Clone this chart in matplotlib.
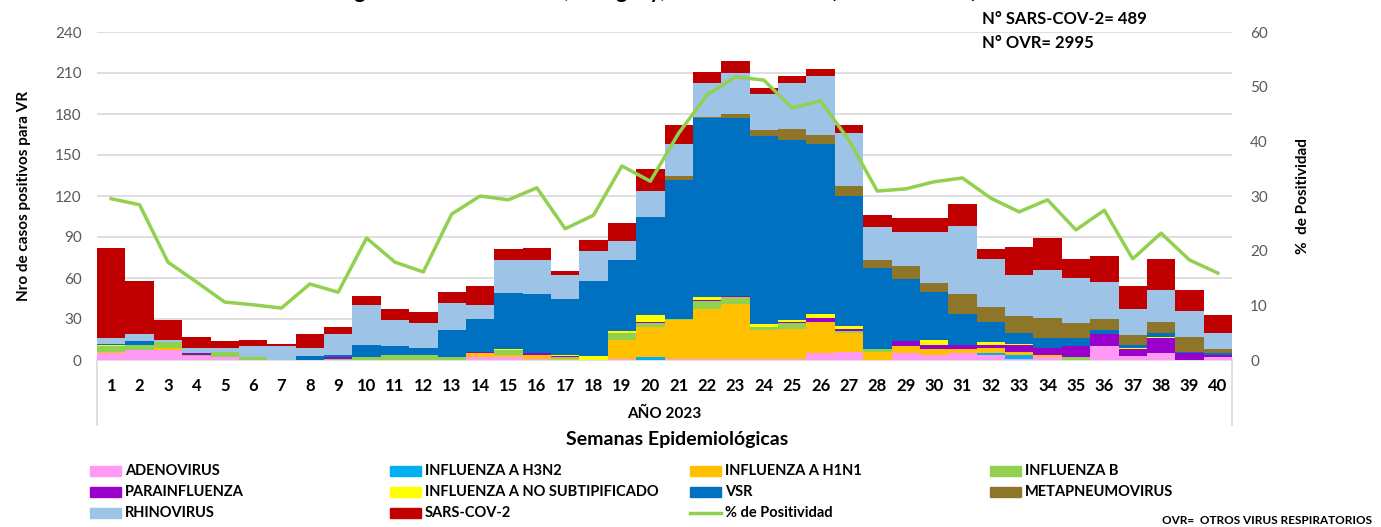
import numpy as np
import matplotlib as mpl
mpl.use('Agg')
import matplotlib.pyplot as plt
from matplotlib.patches import Rectangle
from matplotlib.lines import Line2D

plt.rcParams['font.family'] = ['Lato', 'DejaVu Sans']

# ---- data ----
weeks = list(range(1, 41))

adeno = [5,7,7,3,2,0,0,0,0,0, 0,0,0,2,2,1,0,0,1,0, 1,1,1,1,1,5,6,0,5,4, 5,4,1,2,0,10,3,5,0,2]
h3n2  = [0,0,0,0,0,0,0,0,0,0, 0,0,0,0,0,0,0,0,0,2, 0,0,0,0,0,0,0,0,0,0, 0,1,3,0,0,0,0,0,0,0]
h1n1  = [1,0,2,0,0,0,0,0,0,0, 0,0,0,3,2,3,1,0,14,22, 28,36,40,21,22,23,14,6,5,4, 3,4,2,2,0,0,0,0,0,0]
flub  = [4,4,4,1,4,2,0,0,1,2, 4,4,2,0,3,0,1,0,5,3, 1,6,5,2,4,0,1,2,0,0, 0,0,0,0,2,0,0,0,0,0]
para  = [0,0,0,1,0,0,0,0,1,0, 0,0,0,1,0,1,1,0,0,1, 0,1,1,0,1,3,2,0,4,3, 3,2,5,5,8,9,5,11,5,2]
nosub = [1,0,0,0,0,0,0,0,0,0, 0,0,0,0,1,0,1,3,1,5, 0,2,0,2,1,3,2,0,0,4, 0,2,1,0,0,0,1,1,0,0]
vsr   = [1,3,0,0,0,0,0,3,2,9, 6,5,20,24,41,43,41,55,52,72,
         102,131,130,138,132,124,95,59,45,35, 23,15,8,7,6,3,2,3,1,1]
meta  = [0,0,0,0,0,0,0,0,0,0, 0,0,0,0,0,0,0,0,0,0, 3,1,3,4,8,7,7,6,10,6, 14,11,12,15,11,8,7,8,11,3]
rhino = [4,5,2,4,3,8,10,6,15,29, 19,18,20,10,24,25,17,22,14,19, 23,25,30,27,34,43,39,24,25,38,
         50,35,30,35,33,27,19,23,19,12]
sars  = [66,39,14,8,5,5,2,10,5,7, 8,8,8,14,8,9,3,8,13,16, 14,8,9,4,5,5,6,9,10,10,
         16,7,21,23,14,19,17,23,15,13]

positividad = [29.5,28.4,17.9,14.3,10.6,10.1,9.5,13.9,12.4,22.3,
               17.9,16.1,26.7,30.0,29.3,31.5,24.0,26.5,35.5,32.7,
               41.5,48.5,51.8,51.2,46.1,47.4,40.2,30.9,31.3,32.6,
               33.3,29.6,27.1,29.3,23.8,27.4,18.5,23.2,18.3,15.9]

series_names = ['ADENOVIRUS', 'INFLUENZA A H3N2', 'INFLUENZA A H1N1', 'INFLUENZA B',
                'PARAINFLUENZA', 'INFLUENZA A NO SUBTIPIFICADO', 'VSR', 'METAPNEUMOVIRUS',
                'RHINOVIRUS', 'SARS-COV-2']
series_vals = [adeno, h3n2, h1n1, flub, para, nosub, vsr, meta, rhino, sars]
series_clr = ['#ff99f5', '#00b0f0', '#ffc000', '#92d050', '#9900cc', '#ffff00',
              '#0070c0', '#8d7529', '#9dc3e6', '#c00000']
line_name = '% de Positividad'
line_clr = '#92d050'

W, H = 1381, 527
def fx(px): return px / W
def fy(py): return 1. - py / H

fig = plt.figure(figsize=(W/100., H/100.), dpi=100, facecolor='w')

x0, x1, y0, y1 = 97, 1232, 32, 360
ax = fig.add_axes([fx(x0), fy(y1), fx(x1) - fx(x0), fy(y0) - fy(y1)])

xx = np.array(weeks)
bot = np.zeros(len(weeks))
for vals, clr in zip(series_vals, series_clr):
    ax.bar(xx, vals, width=1.0, bottom=bot, color=clr, linewidth=0, zorder=3)
    bot += np.array(vals)

ax.set_xlim(0.5, 40.5)
ax.set_ylim(0, 240)
ax.set_yticks(np.arange(0, 241, 30))
ax.yaxis.grid(True, color='#d9d9d9', lw=1.2, zorder=0)
ax.set_axisbelow(True)
for s in ['top', 'right', 'left']:
    ax.spines[s].set_visible(False)
ax.spines['bottom'].set_color('#d9d9d9')
ax.spines['bottom'].set_linewidth(1.2)
ax.tick_params(axis='y', length=0, labelsize=11, labelcolor='#595959', pad=11)
ax.set_xticks(xx)
ax.set_xticklabels([str(w) for w in weeks], fontsize=12, fontweight='bold')
ax.tick_params(axis='x', length=0, pad=13)
ax.set_ylabel('Nro de casos positivos para VR', fontsize=11, fontweight='bold', labelpad=17)

ax2 = ax.twinx()
ax2.plot(xx, positividad, color=line_clr, lw=2.5, zorder=5)
ax2.set_ylim(0, 60)
ax2.set_yticks(np.arange(0, 61, 10))
for s in ['top', 'right', 'left', 'bottom']:
    ax2.spines[s].set_visible(False)
ax2.tick_params(axis='y', length=0, labelsize=11, labelcolor='#595959', pad=13)
ax2.set_ylabel('%  de Positividad', fontsize=11, fontweight='bold', labelpad=20)

# multi-level category axis
for px in (x0, x1):
    fig.add_artist(Line2D([fx(px), fx(px)], [fy(y1), fy(425)], color='#d9d9d9', lw=1.2))
fig.text(fx((x0 + x1) / 2), fy(414), 'AÑO 2023', ha='center', va='center',
         fontsize=11, fontweight='bold')
fig.text(fx(677), fy(439), 'Semanas Epidemiológicas', ha='center', va='center',
         fontsize=14, fontweight='bold')

# title (cut off at the top in the reference, only descenders show)
fig.text(fx(340), fy(-2), 'Agentes virales en IRAG, Paraguay, acumulado 2023 (SE 1 a la SE 40)',
         ha='left', va='baseline', fontsize=15, fontweight='bold')

fig.text(fx(982), fy(19), 'N° SARS-COV-2= 489', ha='left', va='center', fontsize=12, fontweight='bold')
fig.text(fx(982), fy(43), 'N° OVR= 2995', ha='left', va='center', fontsize=12, fontweight='bold')

# legend, row-wise in 4 columns
col_x = [90, 390, 690, 990]
row_y = [471, 492, 513]
items = list(zip(series_names, series_clr)) + [(line_name, None)]
for i, (name, clr) in enumerate(items):
    r, c = divmod(i, 4)
    px, py = col_x[c], row_y[r]
    if clr is None:
        fig.add_artist(Line2D([fx(px), fx(px + 31)], [fy(py), fy(py)], color=line_clr, lw=2.5))
    else:
        fig.add_artist(Rectangle((fx(px), fy(py + 5)), fx(31), 10. / H, color=clr,
                                 transform=fig.transFigure))
    fig.text(fx(px + 35), fy(py), name, ha='left', va='center', fontsize=10.5, fontweight='bold')

fig.text(fx(1372), fy(521), 'OVR=  OTROS VIRUS RESPIRATORIOS', ha='right', va='center',
         fontsize=8.5, fontweight='bold')

plt.savefig('out.png', dpi=100)
plt.close(fig)
